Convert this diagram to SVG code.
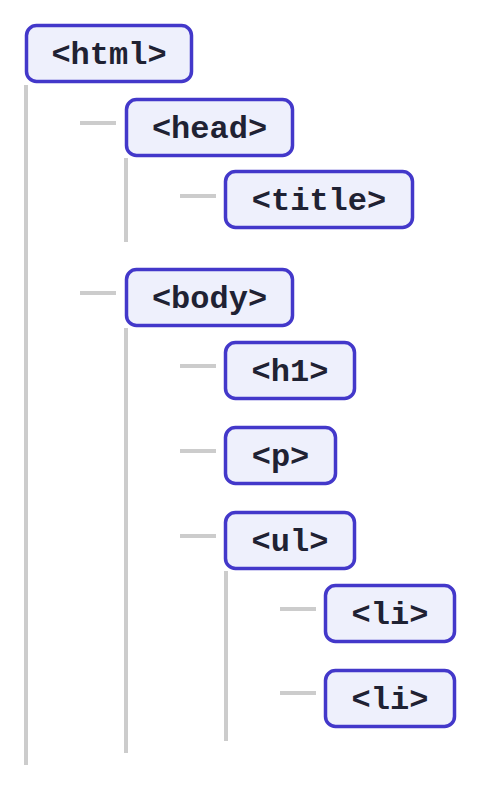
<svg xmlns="http://www.w3.org/2000/svg" width="481" height="789" viewBox="0 0 481 789">
<style>
.box{fill:#eef0fc;stroke:#4338ca;stroke-width:3.5}
.lbl{font-family:"Liberation Mono","Courier New",monospace;font-weight:bold;font-size:32px;fill:#1f2233;text-anchor:middle}
.ln{stroke:#cccccc;stroke-width:4;fill:none}
</style>
<rect width="481" height="789" fill="#ffffff"/>
<g id="connectors">
<line class="ln" x1="26" y1="85" x2="26" y2="765"/>
<line class="ln" x1="126" y1="158" x2="126" y2="242"/>
<line class="ln" x1="126" y1="328" x2="126" y2="753"/>
<line class="ln" x1="226" y1="571" x2="226" y2="741"/>
<line class="ln" x1="80" y1="123" x2="116" y2="123"/>
<line class="ln" x1="180" y1="196" x2="216" y2="196"/>
<line class="ln" x1="80" y1="293" x2="116" y2="293"/>
<line class="ln" x1="180" y1="366" x2="216" y2="366"/>
<line class="ln" x1="180" y1="451" x2="216" y2="451"/>
<line class="ln" x1="180" y1="536" x2="216" y2="536"/>
<line class="ln" x1="280" y1="609" x2="316" y2="609"/>
<line class="ln" x1="280" y1="693" x2="316" y2="693"/>
</g>
<g id="n-html"><rect class="box" x="26.5" y="25.5" width="165" height="56" rx="10"/><text class="lbl" x="109" y="64">&lt;html&gt;</text></g>
<g id="n-head"><rect class="box" x="126.5" y="99.5" width="166" height="56" rx="10"/><text class="lbl" x="209.5" y="138">&lt;head&gt;</text></g>
<g id="n-title"><rect class="box" x="225.5" y="171.5" width="187" height="56" rx="10"/><text class="lbl" x="319" y="210">&lt;title&gt;</text></g>
<g id="n-body"><rect class="box" x="126.5" y="269.5" width="166" height="56" rx="10"/><text class="lbl" x="209.5" y="308">&lt;body&gt;</text></g>
<g id="n-h1"><rect class="box" x="225.5" y="342.5" width="129" height="56" rx="10"/><text class="lbl" x="290" y="381">&lt;h1&gt;</text></g>
<g id="n-p"><rect class="box" x="225.5" y="427.5" width="110" height="56" rx="10"/><text class="lbl" x="280.5" y="466">&lt;p&gt;</text></g>
<g id="n-ul"><rect class="box" x="225.5" y="512.5" width="129" height="56" rx="10"/><text class="lbl" x="290" y="551">&lt;ul&gt;</text></g>
<g id="n-li1"><rect class="box" x="325.5" y="585.5" width="129" height="56" rx="10"/><text class="lbl" x="390" y="624">&lt;li&gt;</text></g>
<g id="n-li2"><rect class="box" x="325.5" y="670.5" width="129" height="56" rx="10"/><text class="lbl" x="390" y="709">&lt;li&gt;</text></g>
</svg>
